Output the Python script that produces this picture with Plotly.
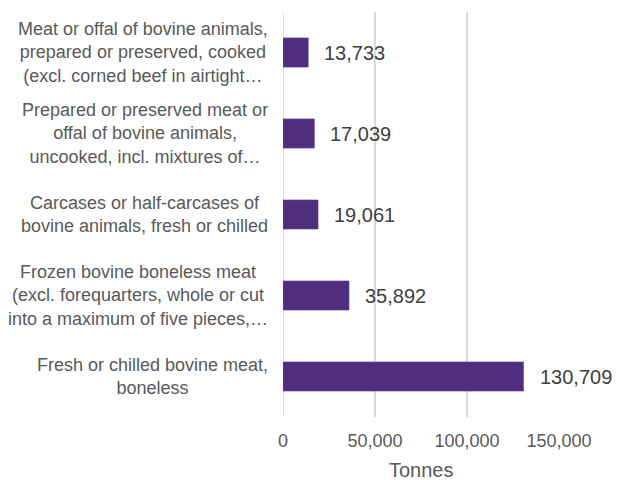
import plotly.graph_objects as go

# Bovine meat product categories (top to bottom) and tonnages
categories = [
    "Meat or offal of bovine animals,<br>prepared or preserved, cooked<br>(excl. corned beef in airtight…",
    "Prepared or preserved meat or<br>offal of bovine animals,<br>uncooked, incl. mixtures of…",
    "Carcases or half-carcases of<br>bovine animals, fresh or chilled",
    "Frozen bovine boneless meat<br>(excl. forequarters, whole or cut<br>into a maximum of five pieces,…",
    "Fresh or chilled bovine meat,<br>boneless",
]
tonnes = [13733, 17039, 19061, 35892, 130709]
tick_values = [0, 50000, 100000, 150000]
tick_labels = ["0", "50,000", "100,000", "150,000"]
x_title = "Tonnes"

FONT = "Arial, Liberation Sans, sans-serif"
BAR_COLOR = "#4F2D7F"
TEXT_GRAY = "#595959"
LABEL_GRAY = "#404040"

W, H = 618, 480
ML, MR, MT, MB = 283, 59, 12, 63
plot_w = W - ML - MR
plot_h = H - MT - MB

fig = go.Figure()
fig.add_trace(go.Bar(
    y=categories,
    x=tonnes,
    orientation="h",
    marker=dict(color=BAR_COLOR, line=dict(color="#6A4C94", width=0.6)),
    hoverinfo="x+y",
))

annotations = []
# Category labels: centered lines, block right-aligned near the axis
for cat in categories:
    annotations.append(dict(
        x=(270 - ML) / plot_w, xref="paper", xanchor="right",
        y=cat, yref="y", yanchor="middle",
        text=cat, align="center", showarrow=False,
        font=dict(family=FONT, size=18, color=TEXT_GRAY),
    ))
# Value labels to the right of each bar
for cat, val in zip(categories, tonnes):
    annotations.append(dict(
        x=val, xref="x", xanchor="left", xshift=14,
        y=cat, yref="y", yanchor="middle",
        text=f"{val:,}", showarrow=False,
        font=dict(family=FONT, size=20, color=LABEL_GRAY),
    ))
# Axis title below the tick labels
annotations.append(dict(
    x=0.5, xref="paper", xanchor="center",
    y=-53 / plot_h, yref="paper", yanchor="middle",
    text=x_title, showarrow=False,
    font=dict(family=FONT, size=20, color=TEXT_GRAY),
))

fig.update_layout(
    width=W, height=H,
    margin=dict(l=ML, r=MR, t=MT, b=MB, pad=0),
    paper_bgcolor="white", plot_bgcolor="white",
    showlegend=False,
    bargap=0.64,
    font=dict(family=FONT, color=TEXT_GRAY),
    annotations=annotations,
)
fig.update_xaxes(
    range=[0, 150000],
    tickvals=tick_values, ticktext=tick_labels,
    tickfont=dict(family=FONT, size=18, color=TEXT_GRAY),
    ticklabelstandoff=11,
    showgrid=True, gridcolor="#D9D9D9", gridwidth=1.5,
    zeroline=False, showline=False,
    automargin=False,
    fixedrange=True,
)
fig.update_yaxes(
    categoryorder="array", categoryarray=categories,
    autorange="reversed",
    showticklabels=False, showgrid=False, zeroline=False, showline=False,
    automargin=False,
    fixedrange=True,
)
fig.add_shape(type="line", xref="x", yref="paper", x0=0, x1=0, y0=0, y1=1,
              line=dict(color="#D9D9D9", width=1.5), layer="below")

fig.write_html("out.html", config={"displayModeBar": False})
